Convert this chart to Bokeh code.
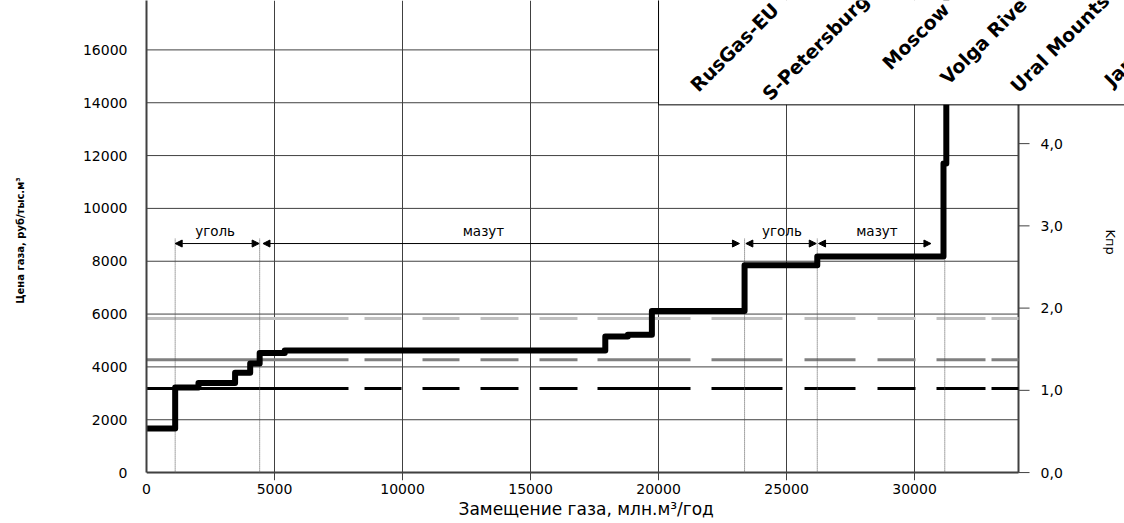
from bokeh.plotting import figure
from bokeh.models import (Range1d, FixedTicker, BoxAnnotation, Label, Title,
                          Arrow, NormalHead, ColumnDataSource)
from bokeh.core.properties import value
from bokeh.embed import file_html
from bokeh.resources import INLINE

# ---------------- data ----------------
step_gas = [0, 1120, 2030, 3460, 4050, 4420, 5400, 17920, 18800, 19740, 23360, 26200, 31130, 31240]
step_price = [1670, 3220, 3390, 3780, 4130, 4530, 4620, 5150, 5220, 6120, 7850, 8180, 11700, 20000]

ref_levels = [3180, 4270, 5830]
ref_colors = ["#000000", "#808080", "#c0c0c0"]

fuel_names = ["уголь", "мазут", "уголь", "мазут"]
fuel_start = [1120, 4550, 23410, 26250]
fuel_end = [4400, 23160, 26160, 30640]
fuel_label_x = [2680, 13160, 24820, 28530]
fuel_arrow_y = 8670
fuel_label_y = 9150

boundary_gas = [1120, 4420, 23360, 26200, 31180]
boundary_top = [8870, 8870, 8870, 8870, 8180]

regions = ["RusGas-EU", "S-Petersburg", "Moscow", "Volga Rive", "Ural Mounts", "Jan"]
region_x = [21370, 24180, 28870, 31130, 33870, 37540]
region_y = [14560, 14220, 15390, 14830, 14520, 14750]

x_ticks = [0, 5000, 10000, 15000, 20000, 25000, 30000]
y_ticks = [0, 2000, 4000, 6000, 8000, 10000, 12000, 14000, 16000]
k_ticks = [0, 1, 2, 3, 4, 5]
k_labels = ["0,0", "1,0", "2,0", "3,0", "4,0", "5,0"]

X_AXIS_END = 34060      # where the right (K) axis stands
X_VIEW_END = 38200      # visible area continues to the page edge
Y_MIN = -300            # a little room below zero for the K tick labels
Y_MAX = 17870
PRICE_PER_K = 3113

FONT = "DejaVu Sans"
AXIS_COLOR = "#404040"

# ---------------- figure ----------------
p = figure(width=1124, height=523, x_range=Range1d(0, X_VIEW_END), y_range=Range1d(Y_MIN, Y_MAX),
           output_backend="svg", toolbar_location=None,
           min_border_left=146, min_border_right=0, min_border_top=0, min_border_bottom=43)
p.outline_line_color = None
p.background_fill_color = "white"
p.border_fill_color = "white"

# vertical grid
p.xgrid.ticker = FixedTicker(ticks=x_ticks)
p.xgrid.grid_line_color = AXIS_COLOR
p.xgrid.grid_line_width = 1
p.xgrid.bounds = (0, Y_MAX)
p.ygrid.visible = False
# horizontal grid only up to the K axis
p.segment(x0=[0] * len(y_ticks), x1=[X_AXIS_END] * len(y_ticks), y0=y_ticks, y1=y_ticks,
          line_color=AXIS_COLOR, line_width=1)

# axes
for ax in (p.xaxis[0], p.yaxis[0]):
    ax.axis_line_color = AXIS_COLOR
    ax.axis_line_width = 2
    ax.major_tick_out = 0
    ax.major_tick_in = 0
    ax.minor_tick_out = 0
    ax.minor_tick_in = 0
    ax.major_label_text_font = FONT
    ax.major_label_text_font_size = "14px"
    ax.major_label_text_color = "black"
    ax.axis_label_text_color = "black"

p.xaxis.ticker = FixedTicker(ticks=x_ticks)
p.xaxis.axis_line_color = None
p.xaxis.major_label_standoff = 3
# x axis line at zero
p.segment(x0=[0], x1=[X_AXIS_END], y0=[0], y1=[0], line_color=AXIS_COLOR, line_width=2)
# x axis title, centred under the plotting area (0 .. X_AXIS_END)
p.add_layout(Title(text="Замещение газа, млн.м³/год", align="left", offset=312, standoff=0,
                   text_font=FONT, text_font_size="17px", text_font_style="normal",
                   text_color="black"), "below")

p.yaxis.bounds = (0, Y_MAX)
p.yaxis.ticker = FixedTicker(ticks=y_ticks)
p.yaxis.major_label_standoff = 19
p.yaxis.axis_label = "Цена газа, руб/тыс.м³"
p.yaxis.axis_label_text_font = FONT
p.yaxis.axis_label_text_font_size = "10px"
p.yaxis.axis_label_text_font_style = "bold"
p.yaxis.axis_label_standoff = 54

# K axis (secondary scale: K = price / PRICE_PER_K)
k_price = [k * PRICE_PER_K for k in k_ticks]
p.segment(x0=[X_AXIS_END], x1=[X_AXIS_END], y0=[0], y1=[Y_MAX], line_color=AXIS_COLOR, line_width=2)
p.segment(x0=[X_AXIS_END] * len(k_ticks), x1=[X_AXIS_END + 430] * len(k_ticks),
          y0=k_price, y1=k_price, line_color=AXIS_COLOR, line_width=1)
p.text(x=[X_AXIS_END + 860] * len(k_ticks), y=k_price, text=k_labels,
       text_align="left", text_baseline="middle", text_font=value(FONT),
       text_font_size="14px", text_color="black")
p.text(x=[37656], y=[8720], text=["Kпр"], angle=-90, angle_units="deg",
       text_align="center", text_baseline="middle", text_font=value(FONT),
       text_font_size="13px", text_color="black")

# reference (dashed) levels
dash = "202 16 37 21 37 21 38 21 38 20 93 21 71 22 51 22 38 21 49 6 29 100"
for lvl, col in zip(ref_levels, ref_colors):
    p.line(x=[0, X_AXIS_END], y=[lvl, lvl], line_color=col, line_width=3, line_dash=dash)

# boundaries between fuels (dotted)
p.segment(x0=boundary_gas, y0=[0] * len(boundary_gas), x1=boundary_gas, y1=boundary_top,
          line_color="#555555", line_width=1, line_dash="1 1")

# supply step curve
p.step(x=step_gas, y=step_price, mode="after", line_color="black", line_width=6,
       line_join="round")

# fuel arrows and labels
arrow_src = ColumnDataSource(dict(x0=fuel_start, x1=fuel_end,
                                  y=[fuel_arrow_y] * len(fuel_start)))
p.add_layout(Arrow(x_start="x0", y_start="y", x_end="x1", y_end="y", source=arrow_src,
                   line_color="black", line_width=1,
                   start=NormalHead(size=7, fill_color="black", line_color="black", line_width=1),
                   end=NormalHead(size=7, fill_color="black", line_color="black", line_width=1)))
lab_src = ColumnDataSource(dict(x=fuel_label_x, y=[fuel_label_y] * len(fuel_names), t=fuel_names))
p.text(x="x", y="y", text="t", source=lab_src, text_align="center", text_baseline="middle",
       text_font=value(FONT), text_font_size="13.5px", text_color="black")

# legend-like box with region names
p.add_layout(BoxAnnotation(left=20000, right=45000, bottom=13920, top=30000,
                           fill_color="white", fill_alpha=1.0,
                           line_color="black", line_width=1, line_alpha=1.0))
for name, rx, ry in zip(regions, region_x, region_y):
    p.add_layout(Label(x=rx, y=ry, text=name, angle=45, angle_units="deg",
                       text_font=FONT, text_font_style="bold", text_font_size="19px",
                       text_baseline="alphabetic", text_align="left", text_color="black"))

open("out.html", "w").write(file_html(p, INLINE))
